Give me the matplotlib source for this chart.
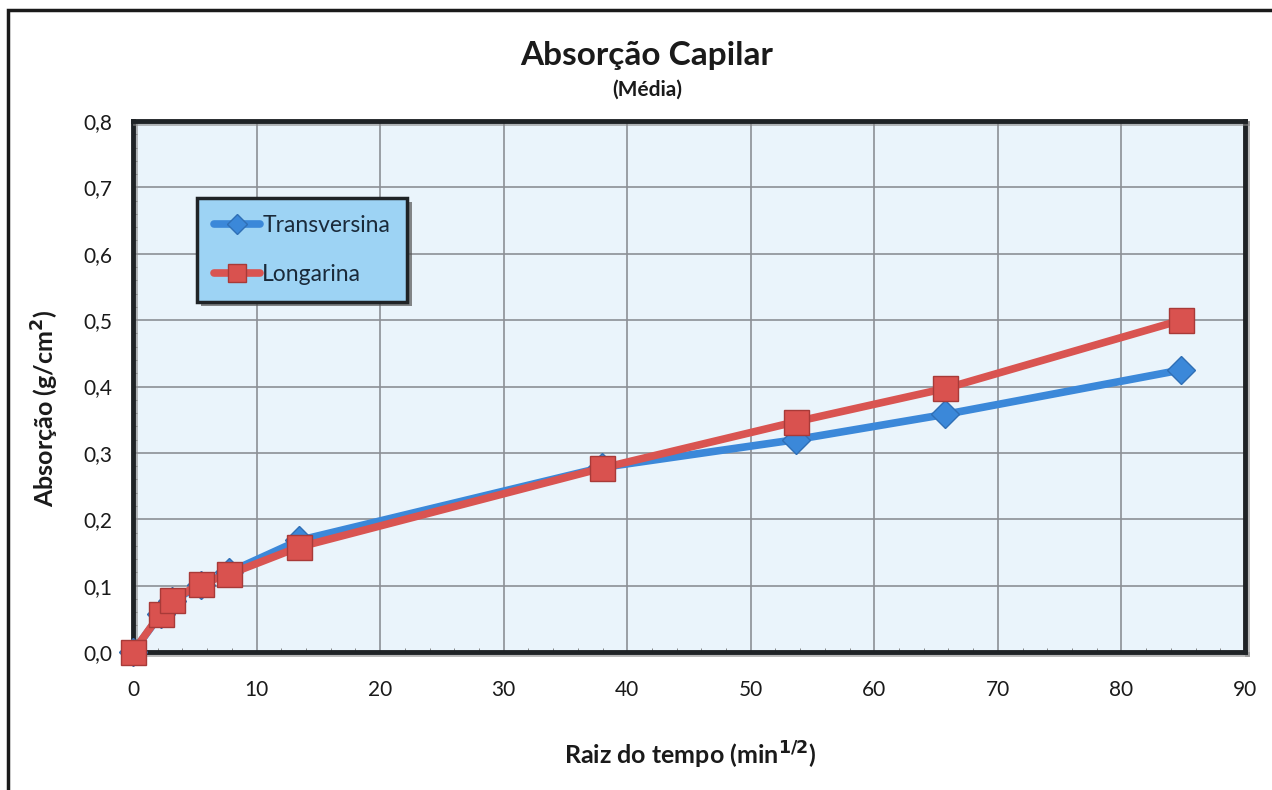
import matplotlib
matplotlib.use("Agg")
import matplotlib.pyplot as plt
from matplotlib.patches import Rectangle
from matplotlib.ticker import FuncFormatter, MultipleLocator
import matplotlib.patheffects as pe

plt.rcParams['font.family'] = ['Lato', 'DejaVu Sans']

# Square root of time (min^1/2)
raiz_tempo = [0.0, 2.24, 3.16, 5.48, 7.75, 13.42, 37.95, 53.67, 65.73, 84.85]
# Mean capillary absorption (g/cm2)
transversina = [0.0, 0.057, 0.077, 0.101, 0.120, 0.168, 0.278, 0.320, 0.358, 0.425]
longarina = [0.0, 0.058, 0.078, 0.103, 0.117, 0.158, 0.277, 0.347, 0.397, 0.500]

x_ticks = [0, 10, 20, 30, 40, 50, 60, 70, 80, 90]
y_ticks = [0.0, 0.1, 0.2, 0.3, 0.4, 0.5, 0.6, 0.7, 0.8]

W, H = 1272, 790
fig = plt.figure(figsize=(W / 100, H / 100), dpi=100)
fig.patch.set_facecolor('white')

# outer chart frame
fig.patches.append(Rectangle((8 / W, -0.01), 1.1, (H - 10) / H + 0.01,
                             transform=fig.transFigure, fill=False,
                             edgecolor='#1a1a1a', linewidth=2.5))

ax = fig.add_axes([133 / W, 1 - 652 / H, (1245 - 133) / W, (652 - 121) / H])
ax.set_facecolor('#eaf4fb')

ax.plot(raiz_tempo, transversina, color='#3b88d9', linewidth=5.5,
        marker='D', markersize=14, markerfacecolor='#3b88d9',
        markeredgecolor='#2f6fb5', markeredgewidth=1, label='Transversina',
        zorder=3, solid_capstyle='round', clip_on=False)
ax.plot(raiz_tempo, longarina, color='#d95451', linewidth=5.5,
        marker='s', markersize=18, markerfacecolor='#d9524f',
        markeredgecolor='#a83a38', markeredgewidth=1, label='Longarina',
        zorder=4, solid_capstyle='round', clip_on=False)

ax.set_xlim(0, 90)
ax.set_ylim(0, 0.8)
ax.set_xticks(x_ticks)
ax.set_yticks(y_ticks)
ax.xaxis.set_minor_locator(MultipleLocator(2))
ax.yaxis.set_minor_locator(MultipleLocator(0.02))
ax.yaxis.set_major_formatter(FuncFormatter(lambda v, p: f"{v:.1f}".replace('.', ',')))
ax.grid(True, which='major', color='#8c9096', linewidth=1.2)
ax.set_axisbelow(True)

for s in ax.spines.values():
    s.set_linewidth(3.5)
    s.set_color('#1f2326')
    s.set_path_effects([pe.SimpleLineShadow(offset=(1.5, -1.5), shadow_color='#888888', alpha=0.6),
                        pe.Normal()])

ax.tick_params(axis='both', which='major', labelsize=15, length=0,
               labelcolor='#1a1a1a')
ax.tick_params(axis='y', which='major', pad=15)
ax.tick_params(axis='x', which='major', pad=20)
ax.tick_params(axis='both', which='minor', length=3, color='#777777', direction='in')

fig.text(647 / W, 1 - 55 / H, 'Absorção Capilar', ha='center', va='center',
         fontsize=24, fontweight='bold', color='#1a1a1a')
fig.text(647 / W, 1 - 90 / H, '(Média)', ha='center', va='center',
         fontsize=15, fontweight='bold', color='#1a1a1a')

fig.text(45 / W, 1 - 408 / H, 'Absorção (g/cm$^\\mathbf{2}$)', rotation=90,
         ha='center', va='center', fontsize=18, fontweight='bold', color='#1a1a1a')
fig.text(690 / W, 1 - 755 / H, 'Raiz do tempo (min$^{\\mathbf{1/2}}$)',
         ha='center', va='center', fontsize=18, fontweight='bold', color='#1a1a1a')

leg = ax.legend(loc='upper left', bbox_to_anchor=((197 - 133) / 1112, (652 - 198) / 531),
                fontsize=16.5, frameon=True, fancybox=False, handlelength=2.0,
                handletextpad=0.1, borderpad=0.75, labelspacing=1.2,
                borderaxespad=0, markerscale=0.7)
frame = leg.get_frame()
frame.set_facecolor('#9dd3f4')
frame.set_edgecolor('#1f2326')
frame.set_linewidth(2.5)
frame.set_alpha(1)
frame.set_path_effects([pe.SimplePatchShadow(offset=(3, -3), shadow_rgbFace='#555555', alpha=0.7),
                        pe.Normal()])
for t in leg.get_texts():
    t.set_color('#1a2a3a')

fig.savefig('out.png', dpi=100, facecolor='white')
